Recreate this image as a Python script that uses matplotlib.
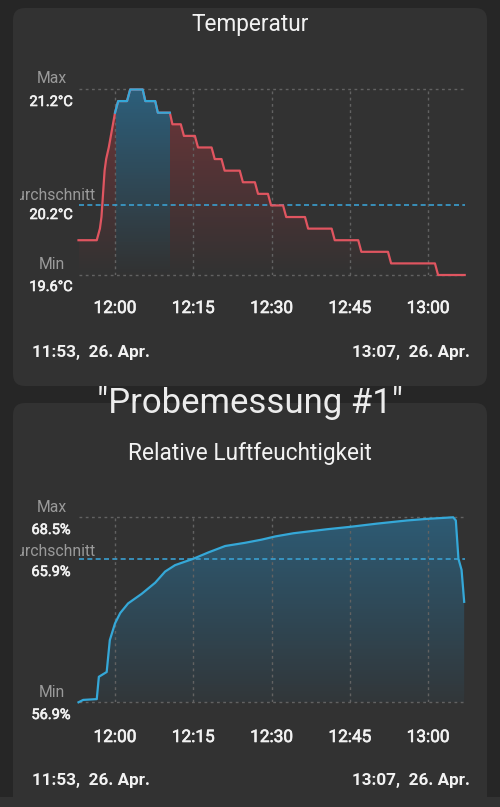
import matplotlib
matplotlib.use("Agg")
import matplotlib.pyplot as plt
import matplotlib.dates as mdates
import matplotlib.patheffects as pe
from matplotlib.patches import FancyBboxPatch, Rectangle
from matplotlib.transforms import Bbox, IdentityTransform, blended_transform_factory
import numpy as np
import pandas as pd

plt.rcParams['font.family'] = ['Roboto', 'DejaVu Sans']

# ---------------- data ----------------
DAY = "2023-04-26"
page_title = '"Probemessung #1"'
chart_titles = ["Temperatur", "Relative Luftfeuchtigkeit"]
stat_labels = ["Max", "Durchschnitt", "Min"]
temp_stats = [21.2, 20.2, 19.6]
hum_stats = [68.5, 65.9, 56.9]
temp_unit = "°C"
hum_unit = "%"
x_tick_labels = ["12:00", "12:15", "12:30", "12:45", "13:00"]
range_start = "11:53"
range_end = "13:07"
date_label = "26. Apr."

temp_times = ["11:53:00", "11:56:30", "11:57:06", "11:57:24", "11:58:00", "11:58:18",
              "11:58:48", "11:59:24", "12:00:00", "12:00:36", "12:02:18", "12:02:54",
              "12:05:18", "12:05:48", "12:07:42", "12:08:12", "12:10:30", "12:11:00",
              "12:12:36", "12:13:12", "12:15:18", "12:15:54", "12:18:30", "12:19:06",
              "12:20:24", "12:21:00", "12:23:54", "12:24:30", "12:26:48", "12:27:24",
              "12:29:18", "12:29:54", "12:32:12", "12:32:48", "12:36:24", "12:37:00",
              "12:41:30", "12:42:06", "12:46:36", "12:47:12", "12:52:18", "12:52:54",
              "13:01:18", "13:01:54", "13:07:00"]
temp_values = [19.9, 19.9, 20.0, 20.1, 20.5, 20.6,
               20.7, 20.85, 21.0, 21.1, 21.1, 21.2,
               21.2, 21.1, 21.1, 21.0, 21.0, 20.9,
               20.9, 20.8, 20.8, 20.7, 20.7, 20.6,
               20.6, 20.5, 20.5, 20.4, 20.4, 20.3,
               20.3, 20.2, 20.2, 20.1, 20.1, 20.0,
               20.0, 19.9, 19.9, 19.8, 19.8, 19.7,
               19.7, 19.6, 19.6]
temp_highlight = ["12:00:00", "12:10:30"]

hum_times = ["11:53:00", "11:53:54", "11:56:30", "11:56:54", "11:58:24", "11:59:00",
             "12:00:00", "12:01:00", "12:02:30", "12:05:06", "12:07:42", "12:09:36",
             "12:11:30", "12:15:00", "12:17:54", "12:21:06", "12:24:54", "12:28:06",
             "12:30:42", "12:34:12", "12:40:36", "12:45:00", "12:50:06", "12:55:54",
             "12:59:42", "13:04:48", "13:05:18", "13:05:48", "13:06:24", "13:06:54"]
hum_values = [56.9, 57.05, 57.1, 58.5, 58.8, 60.8,
              61.85, 62.5, 63.1, 63.7, 64.4, 65.1,
              65.5, 65.9, 66.3, 66.7, 66.9, 67.1,
              67.3, 67.5, 67.75, 67.9, 68.1, 68.3,
              68.4, 68.5, 68.3, 65.9, 65.2, 63.2]

# ---------------- style ----------------
W, H = 500, 807
BG = "#262626"
CARD = "#323232"
GRID = "#626262"
AVG = "#3a9fd0"
RED = "#e05560"
BLUE = "#35a8d8"
RED_FILL = (0.62, 0.22, 0.25)
BLUE_FILL = (0.16, 0.52, 0.72)
TXT = "#f2f2f2"
GREY = "#9a9a9a"
HEAVY = [pe.withStroke(linewidth=0.45, foreground=TXT)]

ID = IdentityTransform()


def tod(ts):
    return mdates.date2num(pd.to_datetime([DAY + " " + t for t in ts]))


fig = plt.figure(figsize=(W / 100, H / 100), dpi=100, facecolor=BG)


def card(y_top, y_bot):
    p = FancyBboxPatch((13, H - y_bot), 474, y_bot - y_top,
                       boxstyle="round,pad=0,rounding_size=12",
                       transform=ID, fc=CARD, ec="none", zorder=0)
    fig.add_artist(p)


card(8, 386)
card(403, 830)
fig.add_artist(Rectangle((0, 0), W, H - 797, transform=ID, fc=CARD, ec="none", zorder=0))


def ftext(x, y, s, **kw):
    return fig.text(x, H - y, s, transform=ID, **kw)


def panel(top, bottom, times, values, stats, unit, title, title_y, label_ys,
          tick_base, range_base, highlight=None, line_col=BLUE, hl_col=BLUE,
          fill_col=BLUE_FILL, hl_fill=BLUE_FILL, a_top=0.5, a_bot=0.04):
    x0p, x1p = 78.5, 464.7
    ax = fig.add_axes([x0p / W, 1 - bottom / H, (x1p - x0p) / W, (bottom - top) / H])
    ax.set_axis_off()
    xs = tod(times)
    ys = np.array(values)
    xmin, xmax = tod([range_start + ":00", range_end + ":00"])
    vmax, vavg, vmin = stats

    ticks = tod([t + ":00" for t in x_tick_labels])
    dash = (0, (2, 2.5))
    ax.axhline(vmax, color=GRID, lw=1, ls=dash, zorder=3, clip_on=False)
    ax.axhline(vmin, color=GRID, lw=1, ls=dash, zorder=3, clip_on=False)
    for t in ticks:
        ax.axvline(t, color=GRID, lw=1, ls=dash, zorder=3)

    # gradient fill clipped to the area under the curve
    nx, ny = 800, 200
    cols = np.linspace(xmin, xmax, nx)
    rgba = np.zeros((ny, nx, 4))
    base = np.tile(np.array(fill_col), (nx, 1))
    if highlight is not None:
        h0, h1 = tod(highlight)
        m = (cols >= h0) & (cols <= h1)
        base[m] = hl_fill
    alpha = np.linspace(a_top, a_bot, ny)
    rgba[:, :, :3] = base[None, :, :]
    rgba[:, :, 3] = alpha[:, None]
    poly = ax.fill_between(xs, ys, vmin, facecolor="none", edgecolor="none")
    im = ax.imshow(rgba, extent=[xmin, xmax, vmin, vmax], aspect="auto",
                   origin="upper", interpolation="nearest", zorder=1)
    im.set_clip_path(poly.get_paths()[0], transform=ax.transData)

    ax.axhline(vavg, color=AVG, lw=1.2, ls=(0, (3, 2)), zorder=4, clip_on=False)

    ax.plot(xs, ys, color=line_col, lw=1.6, zorder=5, clip_on=False,
            solid_joinstyle="round")
    if highlight is not None:
        m = (xs >= h0) & (xs <= h1)
        ax.plot(xs[m], ys[m], color=hl_col, lw=1.6, zorder=6, clip_on=False,
                solid_joinstyle="round")

    ax.set_xlim(xmin, xmax)
    ax.set_ylim(vmin, vmax)

    # titles and labels
    ftext(250, title_y, title, ha="center", va="baseline", color=TXT, fontsize=16.3)
    clip = Bbox.from_extents(20, 0, W, H)
    for lab, val, (ly, vy) in zip(stat_labels, stats, label_ys):
        t = ftext(51.5, ly, lab, ha="center", va="baseline", color=GREY, fontsize=11.3)
        t.set_clip_box(clip)
        t.set_clip_on(True)
        ftext(51, vy, f"{val:.1f}{unit}", ha="center", va="baseline", color=TXT,
              fontsize=10.5, path_effects=HEAVY)
    tr = blended_transform_factory(ax.transData, ID)
    for t, lab in zip(ticks, x_tick_labels):
        ax.text(t, H - tick_base, lab, transform=tr, ha="center", va="baseline",
                color=TXT, fontsize=12.4, clip_on=False, path_effects=HEAVY)
    ftext(32, range_base, f"{range_start},  {date_label}", ha="left", va="baseline",
          color=TXT, fontsize=12.3, fontweight="bold")
    ftext(470, range_base, f"{range_end},  {date_label}", ha="right", va="baseline",
          color=TXT, fontsize=12.3, fontweight="bold")
    return ax


panel(89.5, 275, temp_times, temp_values, temp_stats, temp_unit, chart_titles[0], 31,
      [(83, 106), (200, 219), (269, 291)], 313, 357, highlight=temp_highlight,
      line_col=RED, hl_col=BLUE, fill_col=RED_FILL, hl_fill=BLUE_FILL,
      a_top=0.55, a_bot=0.0)
panel(517.3, 702.3, hum_times, hum_values, hum_stats, hum_unit, chart_titles[1], 460,
      [(512, 534), (556, 576), (697, 719)], 742, 785,
      line_col=BLUE, fill_col=BLUE_FILL, a_top=0.5, a_bot=0.06)

ftext(250, 413, page_title, ha="center", va="baseline", color="#ececec", fontsize=25)

fig.savefig("out.png", dpi=100, facecolor=BG)
